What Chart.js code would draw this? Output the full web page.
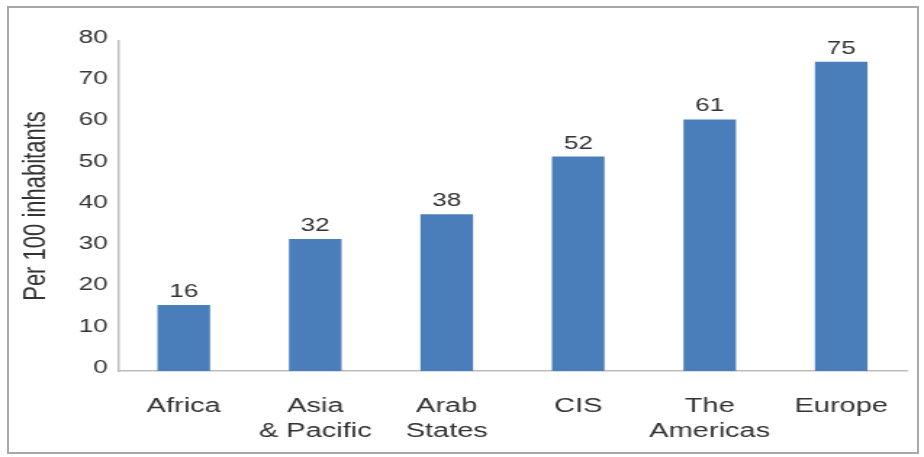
<!DOCTYPE html>
<html><head><meta charset="utf-8">
<script src="https://cdn.jsdelivr.net/npm/chart.js@4.4.1/dist/chart.umd.min.js"></script>
<style>
html,body{margin:0;padding:0;background:#fff;width:924px;height:457px;overflow:hidden;}
#frame{position:absolute;left:7px;top:6px;width:908px;height:444px;border:2px solid #a8a8a8;pointer-events:none;}
#wrap{position:absolute;left:0;top:0;width:637px;height:457px;transform-origin:0 0;transform:scaleX(1.4505);}
</style></head><body>
<div id="wrap"><canvas id="c" width="637" height="457"></canvas></div>
<div id="frame"></div>
<script>
const categories = ['Africa', ['Asia', '& Pacific'], ['Arab', 'States'], 'CIS', ['The', 'Americas'], 'Europe'];
const values = [16, 32, 38, 52, 61, 75];
const yAxisTitle = 'Per 100 inhabitants';
const yMin = 0, yMax = 80, yStep = 10;

const S = 924 / 637;
const FONT = '"Liberation Sans", Arial, Helvetica, sans-serif';

const valueLabels = {
  id: 'valueLabels',
  afterDatasetsDraw(chart) {
    const ctx = chart.ctx;
    const meta = chart.getDatasetMeta(0);
    ctx.save();
    ctx.font = '18px ' + FONT;
    ctx.fillStyle = '#333333';
    ctx.textAlign = 'center';
    ctx.textBaseline = 'alphabetic';
    meta.data.forEach((bar, i) => {
      ctx.fillText(String(values[i]), bar.x, bar.y - 8);
    });
    ctx.restore();
  }
};

new Chart(document.getElementById('c'), {
  type: 'bar',
  data: {
    labels: categories,
    datasets: [{
      data: values,
      backgroundColor: '#4a7ebb',
      borderWidth: 0,
      barPercentage: 0.4,
      categoryPercentage: 1.0
    }]
  },
  options: {
    responsive: false,
    animation: false,
    devicePixelRatio: 1,
    layout: { padding: { left: 0, right: 637 - 907 / S, top: 41, bottom: 0 } },
    plugins: { legend: { display: false }, tooltip: { enabled: false } },
    scales: {
      x: {
        grid: { display: false, drawTicks: false },
        border: { display: true, color: '#bdbdbd', width: 1.5 },
        ticks: { color: '#333333', padding: 23, font: { family: FONT, size: 20, lineHeight: 1.25 }, maxRotation: 0, autoSkip: false },
        afterFit(scale) { scale.height = 86; }
      },
      y: {
        min: yMin, max: yMax,
        grid: { display: false, drawTicks: false },
        border: { display: true, color: '#bdbdbd', width: 1.5 },
        ticks: { stepSize: yStep, color: '#333333', padding: 7, labelOffset: -3, font: { family: FONT, size: 18 } },
        title: { display: true, text: yAxisTitle, color: '#333333', padding: { top: 12, bottom: 0 }, font: { family: FONT, size: 22, lineHeight: 1.2 } },
        afterFit(scale) { scale.width = 118 / S; }
      }
    }
  },
  plugins: [valueLabels]
});
</script>
</body></html>
